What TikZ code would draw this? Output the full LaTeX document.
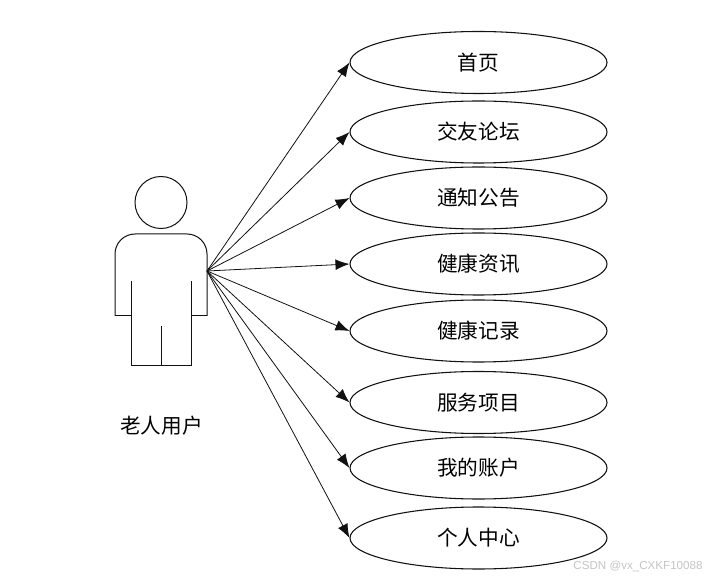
\documentclass[tikz,border=0pt]{standalone}
\usepackage{fontspec}
\setmainfont{Noto Sans CJK SC}
\newfontfamily\markfont{Liberation Sans}
\usetikzlibrary{arrows.meta,positioning,shapes.geometric}
\definecolor{linegray}{HTML}{111111}
\definecolor{markgray}{HTML}{C4C4C4}
\tikzset{
  usecase/.style={draw=linegray,ellipse,line width=0.8pt,minimum width=192.75pt,minimum height=46.5pt,inner sep=0pt,font=\fontsize{15.5pt}{18pt}\selectfont},
  link/.style={-{Latex[length=10.5pt,width=8pt]},draw=linegray,line width=0.6pt},
  figureline/.style={draw=linegray,line width=0.75pt}
}
\begin{document}
\begin{tikzpicture}[x=0.75pt,y=-0.75pt]
  \useasboundingbox (0,0) rectangle (720,580);
  \node[usecase] (home) at (478.5,62.5) {首页};
  \node[usecase] (forum) at (478.5,132) {交友论坛};
  \node[usecase] (notice) at (478.5,198) {通知公告};
  \node[usecase] (news) at (478.5,264) {健康资讯};
  \node[usecase] (record) at (478.5,331) {健康记录};
  \node[usecase] (service) at (478.5,402.5) {服务项目};
  \node[usecase] (account) at (478.5,468) {我的账户};
  \node[usecase] (center) at (478.5,538) {个人中心};
  % actor
  \node[draw=linegray,circle,minimum size=39pt,inner sep=0pt,line width=0.75pt] (head) at (161,202.5) {};
  \draw[figureline,rounded corners=15pt] (115,316) -- (115,234) -- (207,234) -- (207,316);
  \draw[figureline] (115,316) -- (131,316);
  \draw[figureline] (207,316) -- (191,316);
  \draw[figureline] (131,281) -- (131,366) -- (191,366) -- (191,281);
  \draw[figureline] (161,326) -- (161,366);
  \node[font=\fontsize{15.5pt}{18pt}\selectfont] (user) at (161.5,426) {老人用户};
  \coordinate (hand) at (207,271);
  \draw[link] (hand) -- (home.west);
  \draw[link] (hand) -- (forum.west);
  \draw[link] (hand) -- (notice.west);
  \draw[link] (hand) -- (news.west);
  \draw[link] (hand) -- (record.west);
  \draw[link] (hand) -- (service.west);
  \draw[link] (hand) -- (account.west);
  \draw[link] (hand) -- (center.west);
  \node[text=markgray,font=\markfont\fontsize{8.7pt}{11pt}\selectfont] (mark) at (638,566.5) {CSDN @vx\_CXKF10088};
\end{tikzpicture}
\end{document}
